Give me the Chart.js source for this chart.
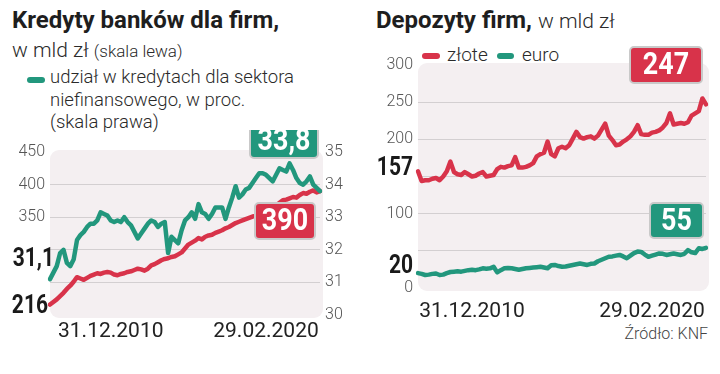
<!DOCTYPE html>
<html>
<head>
<meta charset="utf-8">
<script src="https://cdn.jsdelivr.net/npm/chart.js@4.4.0/dist/chart.umd.min.js"></script>
<style>
  body { margin: 0; background: #fff; }
  #wrap { position: relative; width: 720px; height: 374px; overflow: hidden; font-family: Roboto, sans-serif; color: #2a2a2a; }
  .t { position: absolute; white-space: nowrap; }
  .title { font-weight: 700; font-size: 24px; color: #1e1e1e; }
  .light { font-weight: 300; }
  .sw { position: absolute; height: 6px; border-radius: 3px; }
  canvas { position: absolute; }
</style>
</head>
<body>
<div id="wrap">
  <div class="t title" style="left:12px; top:6px;">Kredyty banków dla firm,</div>
  <div class="t light" style="left:12px; top:38px; font-size:21px;">w mld zł <span style="font-size:17px;">(skala lewa)</span></div>
  <div class="sw" style="left:27px; top:77px; width:18px; background:#22977d;"></div>
  <div class="t light" style="left:50px; top:66px; font-size:18.5px; line-height:22.5px;">udział w kredytach dla sektora<br>niefinansowego, w proc.<br>(skala prawa)</div>

  <div class="t title" style="left:376px; top:6px;">Depozyty firm, <span class="light" style="font-size:21px; color:#2a2a2a;">w mld zł</span></div>
  <div class="sw" style="left:422px; top:53px; width:18px; background:#d8334a;"></div>
  <div class="t light" style="left:447px; top:43px; font-size:19px;">złote</div>
  <div class="sw" style="left:497px; top:53px; width:17px; background:#22977d;"></div>
  <div class="t light" style="left:522px; top:43px; font-size:19px;">euro</div>

  <div class="t light" style="right:12px; top:324px; font-size:16px; color:#444;">Źródło: KNF</div>

  <canvas id="kredyty" width="360" height="215" style="left:0; top:130px;"></canvas>
  <canvas id="depozyty" width="360" height="290" style="left:360px; top:40px;"></canvas>
</div>

<script>
// kredyty dla firm, mld zł (skala lewa)
const kredyty = [216, 220, 224, 229, 234, 240, 245, 251, 258, 256, 254, 257, 260, 262, 264, 263, 265, 266, 265, 262,
  261, 263, 264, 266, 267, 269, 271, 270, 268, 271, 276, 278, 281, 284, 286, 287, 289, 290, 293, 296,
  302, 308, 311, 314, 318, 316, 320, 322, 323, 326, 328, 330, 333, 335, 338, 341, 343, 345, 347, 349,
  351, 352, 352, 354, 356, 361, 366, 368, 372, 376, 377, 379, 381, 380, 384, 387, 386, 389, 391, 388, 390];

// udział w kredytach dla sektora niefinansowego, % (skala prawa)
const udzial = [31.1, 31.3, 31.5, 31.9, 32.0, 31.6, 31.5, 31.7, 32.3, 32.45, 32.55, 32.7, 32.8, 32.8, 32.9, 33.15, 33.1, 33.05, 32.9, 32.85,
  32.9, 32.85, 33.0, 32.85, 32.75, 32.55, 32.35, 32.5, 32.65, 32.8, 32.9, 32.85, 32.7, 32.8, 32.85, 31.9, 32.4, 32.3, 32.2, 32.6,
  32.9, 33.0, 33.15, 32.95, 33.4, 33.15, 33.1, 32.95, 33.1, 33.3, 33.3, 33.3, 32.95, 33.3, 33.6, 33.95, 33.6, 33.7, 33.85, 33.9,
  34.05, 34.2, 34.35, 34.35, 34.3, 34.2, 34.1, 34.3, 34.5, 34.45, 34.4, 34.65, 34.45, 34.2, 34.05, 34.0, 34.1, 34.25, 34.0, 33.9, 33.8];

// depozyty firm, mld zł
const zlote = [157, 144, 145, 145, 147, 148, 145, 150, 157, 170, 156, 153, 152, 156, 153, 150, 151, 154, 156, 150,
  151, 152, 160, 163, 162, 164, 165, 176, 162, 162, 163, 165, 168, 177, 180, 182, 197, 180, 177, 188,
  190, 188, 192, 201, 210, 203, 201, 203, 204, 201, 205, 213, 221, 205, 199, 192, 193, 197, 200, 204,
  210, 219, 207, 206, 206, 209, 210, 212, 216, 222, 235, 220, 221, 222, 221, 223, 232, 235, 238, 255, 247];

const euro = [20, 19, 17.5, 18, 19, 19.5, 17.5, 18, 20, 21.5, 22, 22.5, 22, 23, 24, 24.5, 24, 25, 26.5, 26,
  26.5, 28.5, 21, 24, 26.5, 27, 26.5, 25.5, 24.5, 25.5, 26.5, 27, 27.5, 28, 28.5, 27.5, 26.5, 30.5, 31, 29.5,
  28.5, 29, 30, 31, 32, 33, 32, 31, 32.5, 33, 36, 38, 40, 42, 42.5, 43.5, 44.5, 42.5, 40, 43.5,
  47, 49, 48.5, 45, 42, 43.5, 45, 46.5, 46, 44.5, 45.5, 46.5, 45.5, 44.5, 46, 51, 48, 47, 53.5, 52.5, 54];

// podpisy osi x: indeks punktu -> data
const kredytyDaty = { 18: "31.12.2010", 64: "29.02.2020" };
const depozytyDaty = { 15: "31.12.2010", 65: "29.02.2020" };

const RED = "#d8334a";
const GREEN = "#22977d";
const BG = "#f4eff1";
const GRID = "#d3cfd1";
const TICK = "#555";

// tlo wykresu (zaokraglony prostokat)
const tloPlugin = {
  id: "tlo",
  beforeDraw(chart) {
    const { ctx, chartArea: a } = chart;
    ctx.save();
    ctx.fillStyle = BG;
    ctx.beginPath();
    ctx.roundRect(a.left, a.top - 2, a.width + 3, a.height + 5, 9);
    ctx.fill();
    ctx.restore();
  }
};

// tekst "waski" - Roboto bold sciesniony w poziomie
function waskiTekst(ctx, text, x, y, size, align, color) {
  ctx.save();
  ctx.translate(x, y);
  ctx.scale(0.84, 1);
  ctx.fillStyle = color;
  ctx.font = "bold " + size + "px Roboto";
  ctx.textAlign = align;
  ctx.textBaseline = "middle";
  ctx.fillText(text, 0, 0);
  ctx.restore();
}

function ramka(ctx, x, y, w, h, color, text) {
  ctx.save();
  ctx.fillStyle = color;
  ctx.strokeStyle = "#c9c9c9";
  ctx.lineWidth = 2;
  ctx.beginPath();
  ctx.roundRect(x, y, w, h, 4);
  ctx.fill();
  ctx.stroke();
  ctx.restore();
  waskiTekst(ctx, text, x + w / 2, y + h / 2 + 1, 32, "center", "#fff");
}

function boldLabel(ctx, text, x, y) {
  waskiTekst(ctx, text, x, y, 25, "right", "#1a1a1a");
}

const lineStyle = { borderWidth: 4.5, pointRadius: 0, borderJoinStyle: "round", borderCapStyle: "round", tension: 0 };

// ==========================================
// 1. KREDYTY BANKOW DLA FIRM
// ==========================================
new Chart(document.getElementById("kredyty"), {
  type: "line",
  data: {
    labels: kredyty.map((_, i) => i),
    datasets: [
      { data: udzial, yAxisID: "y1", borderColor: GREEN, ...lineStyle },
      { data: kredyty, yAxisID: "y", borderColor: RED, ...lineStyle }
    ]
  },
  options: {
    responsive: false,
    animation: false,
    layout: { padding: { top: 22 } },
    plugins: { legend: { display: false }, tooltip: { enabled: false } },
    scales: {
      x: {
        offset: false,
        grid: { display: false, drawTicks: false },
        border: { display: false },
        afterFit: (s) => { s.height = 30; },
        ticks: {
          autoSkip: false, maxRotation: 0, padding: 4,
          color: "#222", font: { family: "Roboto", size: 21 },
          callback: (v, i) => kredytyDaty[i] || ""
        }
      },
      y: {
        position: "left", min: 200, max: 450,
        afterFit: (s) => { s.width = 50; },
        border: { display: false },
        grid: { color: (c) => (c.tick.value > 200 && c.tick.value < 450 ? GRID : "transparent"), drawTicks: false },
        ticks: {
          stepSize: 50, padding: 5, color: TICK,
          font: { family: "Roboto", size: 16, weight: 300 },
          callback: (v) => (v >= 350 ? v : "")
        }
      },
      y1: {
        position: "right", min: 30, max: 35,
        afterFit: (s) => { s.width = 40; },
        border: { display: false },
        grid: { display: false, drawTicks: false },
        ticks: {
          stepSize: 1, padding: 5, color: TICK,
          font: { family: "Roboto", size: 16, weight: 300 }
        }
      }
    }
  },
  plugins: [tloPlugin, {
    id: "opisy",
    afterDraw(chart) {
      const { ctx, chartArea: a, scales } = chart;
      boldLabel(ctx, "31,1", a.left + 4, scales.y1.getPixelForValue(udzial[0]) - 19);
      boldLabel(ctx, "216", a.left - 2, scales.y.getPixelForValue(kredyty[0]) + 2);
      ramka(ctx, a.right - 70, a.top - 28, 68, 34, GREEN, "33,8");
      ramka(ctx, a.right - 65, a.top + 51, 60, 36, RED, "390");
    }
  }]
});

// ==========================================
// 2. DEPOZYTY FIRM
// ==========================================
new Chart(document.getElementById("depozyty"), {
  type: "line",
  data: {
    labels: zlote.map((_, i) => i),
    datasets: [
      { data: zlote, borderColor: RED, ...lineStyle },
      { data: euro, borderColor: GREEN, ...lineStyle }
    ]
  },
  options: {
    responsive: false,
    animation: false,
    layout: { padding: { top: 25, right: 14 } },
    plugins: { legend: { display: false }, tooltip: { enabled: false } },
    scales: {
      x: {
        offset: false,
        grid: { display: false, drawTicks: false },
        border: { display: false },
        afterFit: (s) => { s.height = 42; },
        ticks: {
          autoSkip: false, maxRotation: 0, padding: 11,
          color: "#222", font: { family: "Roboto", size: 21 },
          callback: (v, i) => depozytyDaty[i] || ""
        }
      },
      y: {
        min: 0, max: 300,
        afterFit: (s) => { s.width = 58; },
        border: { display: false },
        grid: { color: (c) => (c.tick.value > 0 && c.tick.value < 300 ? GRID : "transparent"), drawTicks: false },
        ticks: {
          stepSize: 50, padding: 5, color: TICK,
          font: { family: "Roboto", size: 16, weight: 300 },
          callback: (v) => (v === 50 || v === 150 ? "" : v)
        }
      }
    }
  },
  plugins: [tloPlugin, {
    id: "opisy",
    afterDraw(chart) {
      const { ctx, chartArea: a, scales } = chart;
      boldLabel(ctx, "157", a.left - 5, scales.y.getPixelForValue(zlote[0]) - 3);
      boldLabel(ctx, "20", a.left - 5, scales.y.getPixelForValue(euro[0]) - 6);
      ramka(ctx, a.right - 76, a.top - 18, 72, 36, RED, "247");
      ramka(ctx, a.right - 56, a.top + 138, 53, 35, GREEN, "55");
    }
  }]
});
</script>
</body>
</html>
